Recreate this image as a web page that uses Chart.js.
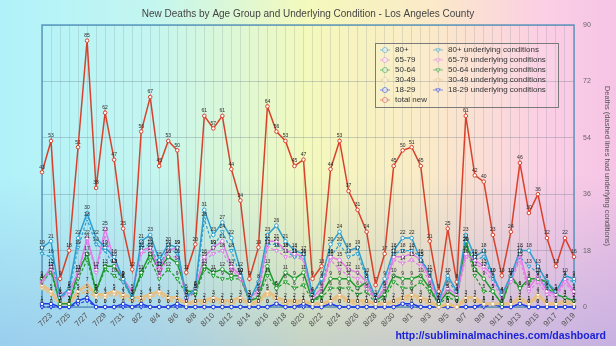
<!DOCTYPE html>
<html>
<head>
<meta charset="utf-8">
<script src="https://cdn.jsdelivr.net/npm/chart.js@4/dist/chart.umd.min.js"></script>
<style>
html, body { margin: 0; padding: 0; overflow: hidden; }
body {
	width: 616px; height: 346px; position: relative;
	background:
		linear-gradient(to bottom, rgba(255,255,255,0) 50%, rgba(110,140,215,0.35) 100%),
		linear-gradient(to right, #b0f2fa 0%, #c4f6f0 25%, #f4f9bc 50%, #fbeac8 70%, #fbcfe4 88%, #f6c4e6 100%);
}
#wrap { position: absolute; left: 0; top: 0; width: 616px; height: 346px; }
#url {
	position: absolute; right: 10px; top: 329px;
	font: bold 10.5px "Liberation Sans", Arial, sans-serif; color: #1c22d6;
}
</style>
</head>
<body>
<div id="wrap"><canvas id="deaths" width="616" height="346"></canvas></div>
<div id="url">http://subliminalmachines.com/dashboard</div>
<script>
// days 7/22 .. 9/19
var days = ['7/22','7/23','7/24','7/25','7/26','7/27','7/28','7/29','7/30','7/31',
	'8/1','8/2','8/3','8/4','8/5','8/6','8/7','8/8','8/9','8/10',
	'8/11','8/12','8/13','8/14','8/15','8/16','8/17','8/18','8/19','8/20',
	'8/21','8/22','8/23','8/24','8/25','8/26','8/27','8/28','8/29','8/30',
	'8/31','9/1','9/2','9/3','9/4','9/5','9/6','9/7','9/8','9/9',
	'9/10','9/11','9/12','9/13','9/14','9/15','9/16','9/17','9/18','9/19'];

var totalNew = [43,53,9,18,51,85,38,62,47,25,12,56,67,45,53,50,11,20,61,57,
	61,44,34,9,19,64,56,53,45,47,9,13,44,53,37,31,24,7,17,45,
	50,51,45,21,5,25,8,61,42,40,23,10,24,46,30,36,22,13,22,16];

var age80 = [19,21,3,6,22,30,22,19,16,9,3,21,23,15,20,19,3,6,31,23,
	27,22,12,2,8,23,26,21,18,17,4,9,20,24,18,19,10,3,9,18,
	22,22,15,11,2,10,5,23,16,18,10,4,10,18,18,13,8,5,10,9];
var age65 = [8,13,4,5,11,22,12,25,15,9,5,18,19,12,18,19,3,6,16,19,
	21,13,10,3,5,21,21,18,17,16,3,6,16,15,12,11,8,2,6,16,
	16,17,15,9,2,6,4,17,15,13,10,4,9,17,6,10,5,4,9,5];
var age50 = [9,12,1,1,11,17,5,13,13,9,3,11,17,12,16,14,5,5,13,11,
	12,10,10,2,3,13,6,11,9,11,2,4,9,9,9,6,8,2,4,10,
	9,9,10,6,1,5,3,21,12,9,5,1,10,6,9,9,8,4,3,2];
var age30 = [7,5,1,1,5,7,4,4,5,4,3,3,4,5,3,3,1,2,2,3,
	2,2,3,1,2,5,3,2,2,2,1,1,2,4,2,2,2,1,1,2,
	3,4,3,2,0,1,0,3,3,1,1,1,1,3,1,4,1,1,2,1];
var age18 = [1,1,0,0,2,3,0,0,0,1,0,1,0,0,0,1,0,0,0,0,
	0,0,0,0,0,0,1,0,0,1,0,0,1,0,0,0,0,0,0,0,
	1,1,0,0,0,0,0,0,0,1,1,0,0,1,0,0,0,0,0,0];

// dashed: deaths that had underlying conditions
var age80u = [17,16,3,5,19,28,20,18,13,8,3,19,20,13,19,17,3,5,28,19,
	24,18,10,3,6,20,20,18,16,16,4,8,16,20,16,17,9,2,6,17,
	18,18,16,10,2,9,4,20,15,16,9,4,9,16,13,11,6,4,9,8];
var age65u = [7,12,3,4,10,21,11,23,13,8,4,17,18,10,16,16,2,5,15,17,
	18,12,9,2,4,19,18,16,16,15,2,5,15,12,10,9,6,2,5,15,
	14,15,13,8,1,5,3,16,14,12,8,3,8,15,5,8,4,3,8,4];
var age50u = [8,11,1,1,9,15,5,12,10,8,3,10,15,9,12,9,4,4,12,10,
	9,9,9,2,3,10,6,8,6,7,2,3,6,6,6,4,5,1,3,8,
	6,6,8,5,1,3,2,20,10,5,5,1,9,6,8,9,6,4,3,2];
var age30u = [6,4,1,1,4,5,3,3,4,3,2,2,3,4,2,2,1,1,1,2,
	1,1,2,1,1,4,2,1,1,1,1,1,1,3,1,1,1,1,1,1,
	2,3,2,1,0,1,0,2,2,1,1,1,1,2,1,3,1,1,1,1];
var age18u = [0,0,0,0,1,2,0,0,0,0,0,0,0,0,0,0,0,0,0,0,
	0,0,0,0,0,0,1,0,0,0,0,0,1,0,0,0,0,0,0,0,
	1,0,0,0,0,0,0,0,0,0,1,0,0,1,0,0,0,0,0,0];

var yTicks = [0,18,36,54,72,90];

var C80 = '#2e9fd0', C65 = '#e07ce6', C50 = '#1f9a2e', C30 = '#e6c084', C18 = '#1d3be2', CTOT = '#d8412c';
var FONT = '"Liberation Sans", Arial, sans-serif';

function solid(label, data, color, width) {
	return {
		label: label, data: data, borderColor: color, backgroundColor: '#fff',
		borderWidth: width || 1.5, pointRadius: 1.8, pointBorderWidth: 1,
		pointBackgroundColor: '#fff', pointBorderColor: color, pointStyle: 'circle', tension: 0
	};
}
function dashed(label, data, color, width) {
	return {
		label: label, data: data, borderColor: color, backgroundColor: '#fff',
		borderWidth: width || 1.2, borderDash: [3, 2], pointRadius: 2.2, pointBorderWidth: 1,
		pointBackgroundColor: '#fff', pointBorderColor: color, pointStyle: 'triangle',
		rotation: 180, tension: 0
	};
}

// value written above each point
var valueLabels = {
	id: 'valueLabels',
	afterDatasetsDraw: function(chart) {
		var ctx = chart.ctx;
		ctx.save();
		ctx.font = '5px ' + FONT;
		ctx.fillStyle = '#2a2a2a';
		ctx.textAlign = 'center';
		ctx.textBaseline = 'bottom';
		chart.data.datasets.forEach(function(ds, i) {
			chart.getDatasetMeta(i).data.forEach(function(pt, j) {
				ctx.fillText(ds.data[j], pt.x, pt.y - 2.5);
			});
		});
		ctx.restore();
	}
};

// frame round the plot
var plotFrame = {
	id: 'plotFrame',
	beforeDatasetsDraw: function(chart) {
		var a = chart.chartArea, ctx = chart.ctx;
		ctx.save();
		ctx.strokeStyle = 'rgba(70,140,185,0.85)';
		ctx.lineWidth = 1.5;
		ctx.strokeRect(a.left, a.top, a.right - a.left, a.bottom - a.top);
		ctx.restore();
	}
};

// two column legend in the upper right of the plot
var boxLegend = {
	id: 'boxLegend',
	afterDraw: function(chart) {
		var ctx = chart.ctx;
		var bx = 375, by = 43, bw = 183, bh = 64;
		ctx.save();
		ctx.fillStyle = 'rgba(255,255,255,0.08)';
		ctx.fillRect(bx, by, bw, bh);
		ctx.strokeStyle = '#7a7a7a';
		ctx.lineWidth = 1;
		ctx.strokeRect(bx + 0.5, by + 0.5, bw, bh);
		ctx.font = '8px ' + FONT;
		ctx.textBaseline = 'middle';
		chart.data.datasets.forEach(function(ds, i) {
			var col = ds.borderDash ? 1 : 0;
			var row = col ? i - 6 : i;
			var mx = col ? 438 : 385;
			var my = 50 + row * 10;
			ctx.globalAlpha = 0.55;
			ctx.strokeStyle = ds.borderColor;
			ctx.fillStyle = '#fff';
			ctx.lineWidth = 1;
			ctx.beginPath();
			ctx.moveTo(mx - 5, my);
			ctx.lineTo(mx + 5, my);
			ctx.stroke();
			Chart.helpers.drawPoint(ctx, {
				pointStyle: ds.pointStyle, rotation: ds.rotation || 0,
				radius: 2.5, borderWidth: 1
			}, mx, my);
			ctx.globalAlpha = 1;
			ctx.fillStyle = '#333';
			ctx.fillText(ds.label, mx + 10, my);
		});
		ctx.restore();
	}
};

var ctx = document.getElementById('deaths').getContext('2d');
var chart = new Chart(ctx, {
	type: 'line',
	data: {
		labels: days,
		datasets: [
			solid('80+', age80, C80),
			solid('65-79', age65, C65),
			solid('50-64', age50, C50),
			solid('30-49', age30, C30, 3),
			solid('18-29', age18, C18),
			solid('total new', totalNew, CTOT),
			dashed('80+ underlying conditions', age80u, C80),
			dashed('65-79 underlying conditions', age65u, C65),
			dashed('50-64 underlying conditions', age50u, C50),
			dashed('30-49 underlying conditions', age30u, C30, 2),
			dashed('18-29 underlying conditions', age18u, C18)
		]
	},
	options: {
		responsive: false,
		animation: false,
		plugins: {
			legend: { display: false },
			tooltip: { enabled: false },
			title: {
				display: true,
				text: 'New Deaths by Age Group and Underlying Condition - Los Angeles County',
				color: '#444',
				font: { family: FONT, size: 10, weight: 'normal' },
				padding: { top: 8, bottom: 5 }
			}
		},
		scales: {
			x: {
				grid: { color: 'rgba(110,125,140,0.2)', drawTicks: false },
				border: { display: false },
				afterFit: function(scale) { scale.height = 39; },
				ticks: {
					autoSkip: false, minRotation: 45, maxRotation: 45, padding: 4,
					color: '#555',
					font: { family: FONT, size: 8 },
					callback: function(v, i) { return i % 2 === 1 ? days[i] : ''; }
				}
			},
			// empty left strip, keeps the title centred on the page
			yl: {
				position: 'left',
				grid: { drawOnChartArea: false, drawTicks: false },
				border: { display: false },
				ticks: { display: false },
				afterFit: function(scale) { scale.width = 42; }
			},
			y: {
				position: 'right',
				min: yTicks[0], max: yTicks[yTicks.length - 1],
				afterBuildTicks: function(scale) {
					scale.ticks = yTicks.map(function(v) { return { value: v }; });
				},
				afterFit: function(scale) { scale.width = 42; },
				grid: { color: 'rgba(90,110,130,0.3)', drawTicks: false },
				border: { display: false },
				ticks: {
					padding: 9, color: '#666',
					font: { family: FONT, size: 7 }
				},
				title: {
					display: true,
					text: 'Deaths (dashed lines had underlying conditions)',
					color: '#555',
					padding: 4,
					font: { family: FONT, size: 7.5 }
				}
			}
		}
	},
	plugins: [plotFrame, valueLabels, boxLegend]
});
</script>
</body>
</html>
